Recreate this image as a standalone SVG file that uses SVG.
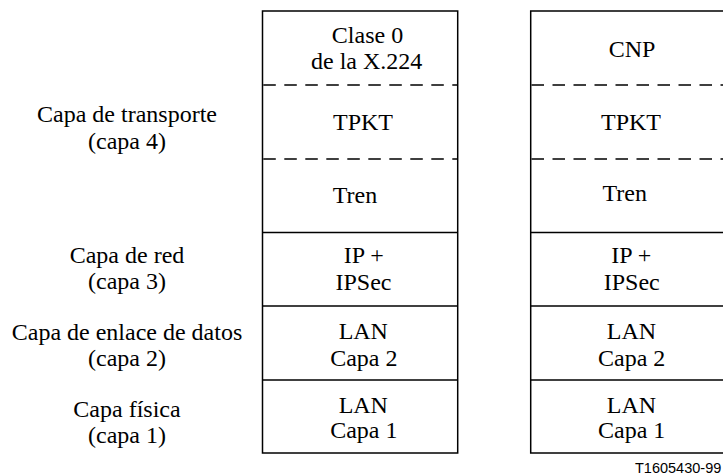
<svg xmlns="http://www.w3.org/2000/svg" width="723" height="475" viewBox="0 0 723 475">
<style>
  .box { fill: #fff; stroke: #000; stroke-width: 1.5; }
  .sep { stroke: #000; stroke-width: 1.5; fill: none; }
  .dash { stroke: #000; stroke-width: 1.5; fill: none; stroke-dasharray: 12.5 8.5; }
  .t { font-family: 'Liberation Serif', 'Times New Roman', Times, serif; font-size: 24px; fill: #000; text-anchor: middle; }
  .ref { font-family: 'Liberation Sans', Arial, sans-serif; font-size: 14.5px; fill: #000; }
</style>
<rect width="723" height="475" fill="#fff"/>

<g id="labels" class="t">
  <text x="127" y="121.7">Capa de transporte</text>
  <text x="127" y="148.5">(capa 4)</text>
  <text x="127" y="262.8">Capa de red</text>
  <text x="127" y="289.3">(capa 3)</text>
  <text x="127" y="340">Capa de enlace de datos</text>
  <text x="127" y="366">(capa 2)</text>
  <text x="127" y="416.7">Capa física</text>
  <text x="127" y="443.3">(capa 1)</text>
</g>

<g id="stack-left">
  <rect class="box" x="262.5" y="11" width="195.2" height="442"/>
  <line class="dash" x1="263.3" y1="85" x2="457" y2="85"/>
  <line class="dash" x1="263.3" y1="159" x2="457" y2="159"/>
  <line class="sep" x1="262.5" y1="232.5" x2="457.7" y2="232.5"/>
  <line class="sep" x1="262.5" y1="306" x2="457.7" y2="306"/>
  <line class="sep" x1="262.5" y1="380" x2="457.7" y2="380"/>
  <g class="t">
    <text x="367.5" y="43.3">Clase 0</text>
    <text x="366.7" y="69.3">de la X.224</text>
    <text x="363" y="130">TPKT</text>
    <text x="355" y="202.7">Tren</text>
    <text x="363.8" y="263.3">IP +</text>
    <text x="363.5" y="290">IPSec</text>
    <text x="363.3" y="339.3">LAN</text>
    <text x="363.8" y="365.7">Capa 2</text>
    <text x="363.3" y="412.7">LAN</text>
    <text x="363.8" y="438.3">Capa 1</text>
  </g>
</g>

<g id="stack-right">
  <rect class="box" x="530.7" y="11" width="195.2" height="442"/>
  <line class="dash" x1="531.5" y1="85" x2="726" y2="85"/>
  <line class="dash" x1="531.5" y1="159" x2="726" y2="159"/>
  <line class="sep" x1="530.7" y1="232.5" x2="726" y2="232.5"/>
  <line class="sep" x1="530.7" y1="306" x2="726" y2="306"/>
  <line class="sep" x1="530.7" y1="380" x2="726" y2="380"/>
  <g class="t">
    <text x="632" y="56.7">CNP</text>
    <text x="631" y="130">TPKT</text>
    <text x="624.7" y="200.5">Tren</text>
    <text x="631.2" y="263.3">IP +</text>
    <text x="631.7" y="290">IPSec</text>
    <text x="631.5" y="339.3">LAN</text>
    <text x="631.7" y="365.7">Capa 2</text>
    <text x="631.5" y="412.7">LAN</text>
    <text x="631.7" y="438.3">Capa 1</text>
  </g>
</g>

<g id="connectors"></g>

<text class="ref" x="635" y="472.5">T1605430-99</text>
</svg>
